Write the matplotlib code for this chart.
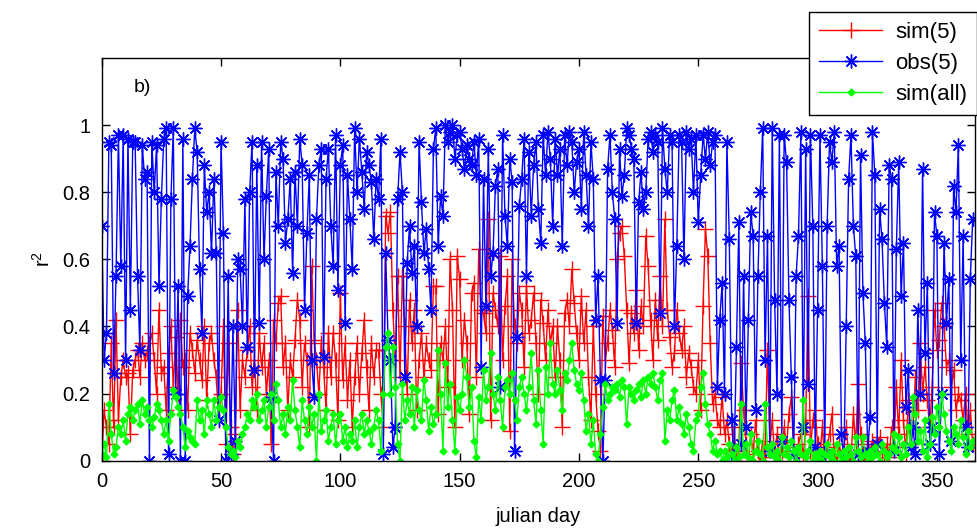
import numpy as np
import matplotlib
matplotlib.use("Agg")
import matplotlib.pyplot as plt

plt.rcParams['font.family'] = ['Liberation Sans', 'DejaVu Sans']
plt.rcParams['mathtext.default'] = 'regular'

# daily r^2 values, julian day 0..365
sim5 = [
    0.00, 0.15, 0.10, 0.05, 0.35, 0.10, 0.42, 0.12, 0.25, 0.30,
    0.25, 0.26, 0.08, 0.27, 0.30, 0.33, 0.25, 0.35, 0.30, 0.32,
    0.35, 0.38, 0.30, 0.20, 0.45, 0.26, 0.28, 0.15, 0.32, 0.40,
    0.22, 0.37, 0.20, 0.42, 0.28, 0.30, 0.15, 0.38, 0.33, 0.26,
    0.36, 0.30, 0.24, 0.40, 0.18, 0.35, 0.38, 0.30, 0.25, 0.12,
    0.20, 0.40, 0.05, 0.35, 0.10, 0.02, 0.08, 0.45, 0.15, 0.30,
    0.25, 0.33, 0.40, 0.22, 0.30, 0.15, 0.38, 0.28, 0.35, 0.20,
    0.30, 0.05, 0.42, 0.35, 0.47, 0.49, 0.28, 0.35, 0.15, 0.30,
    0.25, 0.36, 0.48, 0.42, 0.22, 0.35, 0.30, 0.10, 0.58, 0.36,
    0.30, 0.20, 0.35, 0.28, 0.15, 0.38, 0.25, 0.38, 0.30, 0.12,
    0.50, 0.24, 0.35, 0.18, 0.30, 0.10, 0.25, 0.35, 0.20, 0.32,
    0.42, 0.28, 0.15, 0.35, 0.25, 0.33, 0.33, 0.20, 0.10, 0.73,
    0.68, 0.74, 0.45, 0.30, 0.55, 0.25, 0.55, 0.40, 0.20, 0.48,
    0.35, 0.45, 0.15, 0.30, 0.38, 0.25, 0.35, 0.30, 0.27, 0.52,
    0.52, 0.14, 0.35, 0.30, 0.40, 0.22, 0.60, 0.45, 0.10, 0.61,
    0.54, 0.30, 0.42, 0.35, 0.14, 0.50, 0.53, 0.25, 0.63, 0.45,
    0.44, 0.38, 0.72, 0.12, 0.50, 0.45, 0.40, 0.61, 0.30, 0.46,
    0.55, 0.09, 0.60, 0.40, 0.35, 0.50, 0.45, 0.28, 0.52, 0.38,
    0.42, 0.50, 0.35, 0.20, 0.48, 0.41, 0.30, 0.45, 0.35, 0.40,
    0.25, 0.40, 0.30, 0.10, 0.44, 0.48, 0.40, 0.57, 0.47, 0.38,
    0.30, 0.49, 0.35, 0.45, 0.25, 0.12, 0.40, 0.20, 0.09, 0.03,
    0.43, 0.30, 0.35, 0.45, 0.39, 0.28, 0.60, 0.68, 0.70, 0.61,
    0.45, 0.29, 0.44, 0.38, 0.51, 0.33, 0.46, 0.40, 0.67, 0.58,
    0.42, 0.30, 0.48, 0.36, 0.55, 0.40, 0.72, 0.45, 0.37, 0.28,
    0.32, 0.45, 0.38, 0.33, 0.40, 0.25, 0.32, 0.28, 0.22, 0.20,
    0.30, 0.15, 0.46, 0.69, 0.61, 0.35, 0.17, 0.20, 0.12, 0.10,
    0.19, 0.08, 0.12, 0.05, 0.02, 0.10, 0.00, 0.03, 0.29, 0.15,
    0.05, 0.00, 0.08, 0.02, 0.12, 0.03, 0.00, 0.06, 0.01, 0.33,
    0.05, 0.12, 0.02, 0.08, 0.00, 0.03, 0.10, 0.04, 0.14, 0.19,
    0.02, 0.00, 0.05, 0.08, 0.01, 0.10, 0.49, 0.03, 0.12, 0.15,
    0.05, 0.02, 0.10, 0.00, 0.04, 0.08, 0.14, 0.02, 0.00, 0.05,
    0.01, 0.03, 0.10, 0.02, 0.00, 0.14, 0.05, 0.23, 0.08, 0.02,
    0.00, 0.05, 0.02, 0.06, 0.04, 0.05, 0.07, 0.03, 0.02, 0.05,
    0.01, 0.10, 0.04, 0.22, 0.08, 0.30, 0.12, 0.02, 0.18, 0.05,
    0.10, 0.25, 0.15, 0.35, 0.20, 0.28, 0.18, 0.10, 0.22, 0.45,
    0.33, 0.36, 0.47, 0.40, 0.28, 0.30, 0.22, 0.27, 0.15, 0.20,
    0.18, 0.12, 0.20, 0.08, 0.15, 0.05,
]

obs5 = [
    0.70, 0.30, 0.38, 0.95, 0.94, 0.26, 0.55, 0.97, 0.58, 0.97,
    0.30, 0.96, 0.45, 0.95, 0.95, 0.55, 0.33, 0.94, 0.84, 0.86,
    0.00, 0.95, 0.80, 0.94, 0.52, 0.78, 0.96, 0.99, 0.02, 0.78,
    0.99, 0.20, 0.52, 0.00, 0.96, 0.00, 0.49, 0.64, 0.84, 0.99,
    0.92, 0.57, 0.38, 0.88, 0.74, 0.80, 0.62, 0.84, 0.62, 0.12,
    0.95, 0.68, 0.00, 0.55, 0.02, 0.40, 0.06, 0.60, 0.57, 0.40,
    0.78, 0.34, 0.80, 0.95, 0.27, 0.88, 0.41, 0.95, 0.60, 0.79,
    0.93, 0.19, 0.00, 0.86, 0.70, 0.95, 0.90, 0.65, 0.72, 0.84,
    0.56, 0.86, 0.70, 0.96, 0.88, 0.45, 0.68, 0.85, 0.30, 0.19,
    0.72, 0.88, 0.93, 0.31, 0.84, 0.93, 0.70, 0.58, 0.97, 0.51,
    0.88, 0.94, 0.41, 0.85, 0.72, 0.57, 0.99, 0.80, 0.96, 0.86,
    0.75, 0.92, 0.88, 0.83, 0.66, 0.84, 0.78, 0.96, 0.02, 0.62,
    0.36, 0.30, 0.04, 0.10, 0.78, 0.92, 0.80, 0.25, 0.59, 0.70,
    0.56, 0.64, 0.40, 0.95, 0.77, 0.62, 0.69, 0.57, 0.45, 0.93,
    0.99, 0.64, 0.79, 0.73, 1.00, 0.95, 0.98, 1.00, 0.90, 0.97,
    0.98, 0.93, 0.87, 0.94, 0.90, 0.88, 0.95, 0.85, 0.96, 0.28,
    0.84, 0.46, 0.93, 0.55, 0.62, 0.82, 0.87, 0.22, 0.97, 0.73,
    0.64, 0.90, 0.83, 0.03, 0.37, 0.76, 0.84, 0.96, 0.55, 0.92,
    0.73, 0.88, 0.95, 0.75, 0.65, 0.97, 0.85, 0.98, 0.90, 0.70,
    0.96, 0.85, 0.93, 0.64, 0.97, 0.88, 0.98, 0.95, 0.80, 0.89,
    0.93, 0.75, 0.98, 0.85, 0.70, 0.95, 0.84, 0.42, 0.55, 0.24,
    0.00, 0.24, 0.87, 0.97, 0.80, 0.72, 0.41, 0.93, 0.79, 0.85,
    0.99, 0.97, 0.93, 0.90, 0.41, 0.77, 0.86, 0.75, 0.80, 0.96,
    0.98, 0.92, 0.97, 0.95, 0.44, 0.99, 0.87, 0.80, 0.97, 0.95,
    0.40, 0.64, 0.97, 0.95, 0.60, 0.98, 0.93, 0.96, 0.80, 0.97,
    0.71, 0.85, 0.97, 0.90, 0.98, 0.88, 0.95, 0.97, 0.22, 0.42,
    0.53, 0.20, 0.95, 0.66, 0.12, 0.00, 0.34, 0.71, 0.05, 0.55,
    0.10, 0.42, 0.74, 0.67, 0.15, 0.55, 0.80, 0.99, 0.30, 0.67,
    0.03, 0.99, 0.48, 0.20, 0.97, 0.06, 0.97, 0.89, 0.48, 0.25,
    0.02, 0.55, 0.67, 0.98, 0.10, 0.93, 0.23, 0.97, 0.70, 0.04,
    0.45, 0.97, 0.58, 0.02, 0.70, 0.95, 0.89, 0.98, 0.58, 0.64,
    0.08, 0.00, 0.40, 0.84, 0.97, 0.70, 0.61, 0.02, 0.91, 0.50,
    0.35, 0.03, 0.13, 0.98, 0.85, 0.05, 0.75, 0.66, 0.47, 0.34,
    0.88, 0.84, 0.03, 0.63, 0.89, 0.49, 0.65, 0.16, 0.27, 0.04,
    0.10, 0.02, 0.45, 0.20, 0.87, 0.32, 0.53, 0.05, 0.10, 0.74,
    0.67, 0.02, 0.20, 0.65, 0.41, 0.54, 0.06, 0.82, 0.74, 0.94,
    0.30, 0.67, 0.10, 0.04, 0.54, 0.72,
]

simall = [
    0.02, 0.05, 0.01, 0.17, 0.08, 0.02, 0.04, 0.10, 0.08, 0.12,
    0.06, 0.14, 0.16, 0.12, 0.15, 0.17, 0.11, 0.18, 0.14, 0.16,
    0.12, 0.10, 0.13, 0.17, 0.15, 0.12, 0.08, 0.12, 0.06, 0.14,
    0.21, 0.19, 0.16, 0.14, 0.10, 0.04, 0.09, 0.07, 0.06, 0.05,
    0.18, 0.12, 0.15, 0.08, 0.18, 0.14, 0.10, 0.18, 0.12, 0.16,
    0.19, 0.15, 0.10, 0.04, 0.02, 0.03, 0.01, 0.06, 0.04, 0.08,
    0.10, 0.14, 0.12, 0.18, 0.16, 0.20, 0.12, 0.15, 0.18, 0.10,
    0.16, 0.20, 0.12, 0.23, 0.18, 0.10, 0.14, 0.08, 0.16, 0.12,
    0.24, 0.15, 0.10, 0.04, 0.18, 0.12, 0.08, 0.16, 0.10, 0.14,
    0.00, 0.20, 0.09, 0.12, 0.15, 0.06, 0.10, 0.14, 0.05, 0.12,
    0.14, 0.06, 0.10, 0.04, 0.08, 0.06, 0.12, 0.04, 0.10, 0.14,
    0.08, 0.12, 0.09, 0.05, 0.10, 0.15, 0.12, 0.03, 0.20, 0.34,
    0.38, 0.20, 0.34, 0.22, 0.05, 0.00, 0.23, 0.12, 0.18, 0.14,
    0.22, 0.10, 0.21, 0.15, 0.12, 0.24, 0.18, 0.09, 0.16, 0.11,
    0.14, 0.33, 0.20, 0.03, 0.29, 0.16, 0.23, 0.12, 0.03, 0.19,
    0.15, 0.20, 0.30, 0.25, 0.16, 0.22, 0.06, 0.01, 0.19, 0.12,
    0.27, 0.18, 0.22, 0.32, 0.20, 0.15, 0.25, 0.18, 0.10, 0.22,
    0.24, 0.20, 0.26, 0.18, 0.12, 0.22, 0.25, 0.20, 0.15, 0.22,
    0.32, 0.18, 0.11, 0.27, 0.15, 0.05, 0.28, 0.20, 0.35, 0.23,
    0.20, 0.27, 0.21, 0.15, 0.26, 0.24, 0.30, 0.35, 0.27, 0.23,
    0.21, 0.26, 0.18, 0.09, 0.14, 0.05, 0.12, 0.02, 0.00, 0.08,
    0.16, 0.23, 0.18, 0.20, 0.22, 0.21, 0.23, 0.19, 0.24, 0.22,
    0.11, 0.22, 0.20, 0.18, 0.21, 0.23, 0.19, 0.24, 0.20, 0.25,
    0.23, 0.26, 0.22, 0.18, 0.24, 0.26, 0.06, 0.15, 0.12, 0.18,
    0.21, 0.12, 0.16, 0.11, 0.08, 0.14, 0.10, 0.05, 0.03, 0.12,
    0.14, 0.22, 0.26, 0.17, 0.11, 0.08, 0.03, 0.06, 0.02, 0.03,
    0.00, 0.03, 0.01, 0.05, 0.02, 0.00, 0.04, 0.01, 0.17, 0.02,
    0.05, 0.01, 0.08, 0.00, 0.03, 0.06, 0.02, 0.00, 0.17, 0.04,
    0.02, 0.05, 0.01, 0.03, 0.00, 0.07, 0.02, 0.04, 0.01, 0.06,
    0.03, 0.00, 0.04, 0.02, 0.18, 0.01, 0.03, 0.06, 0.00, 0.02,
    0.01, 0.03, 0.00, 0.02, 0.05, 0.01, 0.03, 0.00, 0.05, 0.02,
    0.00, 0.03, 0.01, 0.04, 0.02, 0.00, 0.07, 0.03, 0.01, 0.07,
    0.02, 0.00, 0.03, 0.01, 0.04, 0.02, 0.00, 0.05, 0.03, 0.01,
    0.02, 0.04, 0.08, 0.03, 0.07, 0.01, 0.05, 0.02, 0.10, 0.05,
    0.19, 0.14, 0.06, 0.09, 0.03, 0.12, 0.01, 0.05, 0.13, 0.08,
    0.16, 0.10, 0.20, 0.14, 0.09, 0.06, 0.03, 0.10, 0.08, 0.05,
    0.12, 0.07, 0.02, 0.09, 0.04, 0.06,
]

days = np.arange(len(obs5))

fig = plt.figure(figsize=(9.78, 5.32), dpi=100)
ax = fig.add_axes([0.104, 0.134, 0.893, 0.757])

# 8-armed asterisk like the classic '*' marker
asterisk = (8, 2, 0)

ax.plot(days, sim5, color='red', lw=1, marker='+', ms=12, mew=1, label='sim(5)')
ax.plot(days, obs5, color='blue', lw=1, marker=asterisk, ms=10, mew=1, label='obs(5)')
ax.plot(days, simall, color='#00ff00', lw=1, marker='D', ms=3.5, label='sim(all)')

ax.set_xlim(0, 366)
ax.set_ylim(0, 1.2)
ax.set_xticks(range(0, 351, 50))
ax.set_yticks([0, 0.2, 0.4, 0.6, 0.8, 1])
ax.set_yticklabels(['0', '0.2', '0.4', '0.6', '0.8', '1'])
ax.tick_params(direction='in', top=True, right=True, length=6, width=1,
               labelsize=14.5, pad=8)
for sp in ax.spines.values():
    sp.set_linewidth(1)

ax.set_xlabel('julian day', fontsize=14.5, labelpad=12)
ax.set_ylabel('r$^2$', fontsize=14.5, labelpad=6)
ax.text(0.037, 0.915, 'b)', transform=ax.transAxes, fontsize=14)

leg = fig.legend(loc='upper right', bbox_to_anchor=(0.999, 0.978), fontsize=16,
                 handlelength=2.8, borderaxespad=0, fancybox=False,
                 framealpha=1, edgecolor='black', borderpad=0.45,
                 labelspacing=0.45, handletextpad=0.6)
leg.get_frame().set_linewidth(1)

fig.savefig('out.png', dpi=100)
